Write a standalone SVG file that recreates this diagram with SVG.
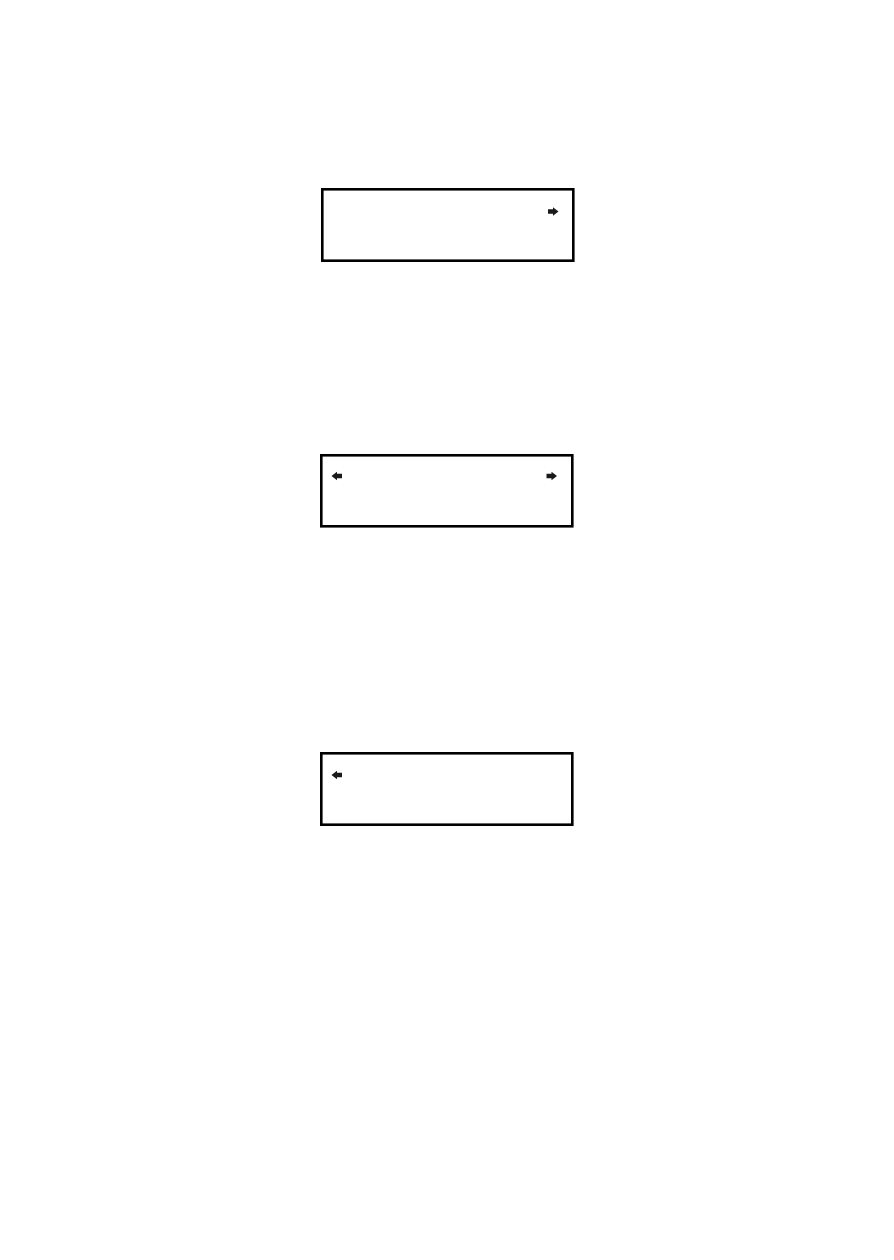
<svg xmlns="http://www.w3.org/2000/svg" width="894" height="1260" viewBox="0 0 894 1260">
<style>
.box{fill:#fff;stroke:#000;stroke-width:2.6}
.arr{fill:#1a1a1a}
</style>
<defs>
<polygon id="ar" points="0,-2.3 5,-2.3 5,-4.2 10.5,0 5,4.2 5,2.3 0,2.3"/>
</defs>
<rect width="894" height="1260" fill="#fff"/>
<g id="screen1">
<rect class="box" x="322.3" y="189.3" width="251" height="71.4"/>
<use href="#ar" class="arr" transform="translate(548,211.5)"/>
</g>
<g id="screen2">
<rect class="box" x="321.3" y="455.3" width="251" height="71"/>
<use href="#ar" class="arr" transform="translate(342,476) scale(-1,1)"/>
<use href="#ar" class="arr" transform="translate(546.5,476)"/>
</g>
<g id="screen3">
<rect class="box" x="321.3" y="753.3" width="251" height="71.4"/>
<use href="#ar" class="arr" transform="translate(342,775) scale(-1,1)"/>
</g>
<g id="connectors"/>
</svg>
